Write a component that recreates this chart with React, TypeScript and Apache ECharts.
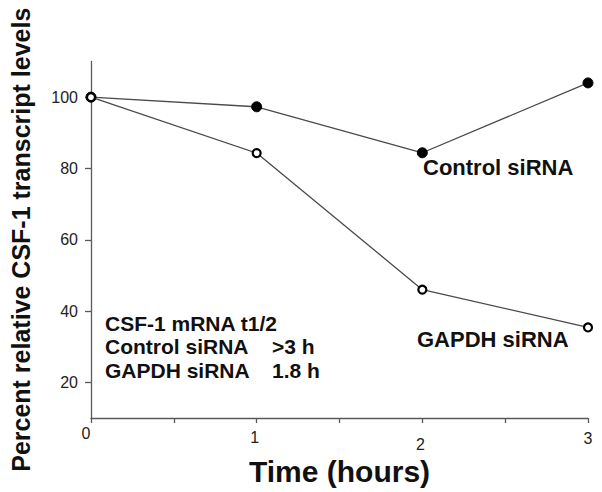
import React, { useEffect, useRef } from "react";
import * as echarts from "echarts";

const hours = [0, 1, 2, 3];
const controlValues = [100, 97.3, 84.4, 104];
const gapdhValues = [100, 84.3, 46, 35.4];
const yTicks = [20, 40, 60, 80, 100];
const xLabelStyleKeys = ["a", "b", "c", "d"];
const annotationLines = [
  ["CSF-1 mRNA t1/2", ""],
  ["Control siRNA", ">3 h"],
  ["GAPDH siRNA", "1.8 h"],
];

const FONT = "'Liberation Sans', Arial, Helvetica, sans-serif";

export default function App() {
  const ref = useRef<HTMLDivElement>(null);
  useEffect(() => {
    if (!ref.current) return;
    const chart = echarts.init(ref.current, undefined, { renderer: "svg" });
    const axisColor = "#5a5a5a";
    const lineColor = "#4a4a4a";
    const annGraphics: any[] = [];
    annotationLines.forEach((ln, i) => {
      const y = 323 + i * 23.5;
      annGraphics.push({
        type: "text",
        x: 105,
        y,
        style: {
          text: ln[0],
          font: `bold 21px ${FONT}`,
          fill: "#111",
          textAlign: "left",
          textVerticalAlign: "middle",
          align: "left",
          verticalAlign: "middle",
        },
      });
      if (ln[1]) {
        annGraphics.push({
          type: "text",
          x: 272,
          y,
          style: {
            text: ln[1],
            font: `bold 21px ${FONT}`,
            fill: "#111",
            textAlign: "left",
            textVerticalAlign: "middle",
            align: "left",
            verticalAlign: "middle",
          },
        });
      }
    });
    chart.setOption({
      animation: false,
      backgroundColor: "#ffffff",
      textStyle: { fontFamily: FONT },
      grid: { left: 86, right: 14, top: 61.5, bottom: 74 },
      xAxis: {
        type: "value",
        min: 0,
        max: 3,
        interval: 1,
        name: "Time (hours)",
        nameLocation: "middle",
        nameGap: 37,
        nameTextStyle: { fontSize: 30, fontWeight: "bold", color: "#111", fontFamily: FONT },
        axisLine: { show: true, lineStyle: { color: axisColor, width: 1.3 } },
        axisTick: { show: true, inside: false, length: 5, lineStyle: { color: axisColor, width: 1.3 } },
        minorTick: { show: true, splitNumber: 2, length: 5, lineStyle: { color: axisColor, width: 1.3 } },
        splitLine: { show: false },
        axisLabel: {
          margin: 3,
          color: "#222",
          fontSize: 16,
          fontFamily: FONT,
          formatter: (v: number) => {
            const idx = hours.indexOf(v);
            const key = xLabelStyleKeys[idx] || "a";
            return `{${key}|${v}}`;
          },
          rich: {
            a: { lineHeight: 24, fontSize: 16, color: "#222", padding: [0, 10, 0, 0] },
            b: { lineHeight: 32, fontSize: 16, color: "#222", padding: [0, 4, 0, 0] },
            c: { lineHeight: 46, fontSize: 16, color: "#222", padding: [0, 4, 0, 0] },
            d: { lineHeight: 34, fontSize: 16, color: "#222" },
          },
        },
      },
      yAxis: {
        type: "value",
        min: 10,
        max: 110,
        interval: 10,
        name: "Percent relative CSF-1 transcript levels",
        nameLocation: "middle",
        nameGap: 58,
        nameRotate: 90,
        nameTextStyle: { fontSize: 25, fontWeight: "bold", color: "#111", fontFamily: FONT },
        axisLine: { show: true, lineStyle: { color: axisColor, width: 1.3 } },
        axisTick: {
          show: true,
          length: 6,
          lineStyle: { color: axisColor, width: 1.3 },
          customValues: yTicks,
        },
        splitLine: { show: false },
        axisLabel: {
          margin: 13,
          color: "#222",
          fontSize: 16,
          fontFamily: FONT,
          customValues: yTicks,
        },
      },
      series: [
        {
          name: "Control siRNA",
          type: "line",
          data: hours.map((h, i) => [h, controlValues[i]]),
          symbol: "circle",
          symbolSize: 10,
          itemStyle: { color: "#000", borderColor: "#000", borderWidth: 1 },
          lineStyle: { color: lineColor, width: 1.3 },
          z: 2,
        },
        {
          name: "GAPDH siRNA",
          type: "line",
          data: hours.map((h, i) => [h, gapdhValues[i]]),
          symbol: "circle",
          symbolSize: 8,
          showAllSymbol: true,
          itemStyle: { color: "#fff", borderColor: "#000", borderWidth: 2.2 },
          lineStyle: { color: lineColor, width: 1.3 },
          z: 3,
        },
      ],
      graphic: [
        {
          type: "text",
          x: 423,
          y: 167,
          style: {
            text: "Control siRNA",
            font: `bold 22px ${FONT}`,
            fill: "#111",
            textAlign: "left",
            textVerticalAlign: "middle",
            align: "left",
            verticalAlign: "middle",
          },
        },
        {
          type: "text",
          x: 417,
          y: 339,
          style: {
            text: "GAPDH siRNA",
            font: `bold 22px ${FONT}`,
            fill: "#111",
            textAlign: "left",
            textVerticalAlign: "middle",
            align: "left",
            verticalAlign: "middle",
          },
        },
        ...annGraphics,
      ],
    });
    return () => chart.dispose();
  }, []);
  return <div ref={ref} style={{ width: 602, height: 492, position: "absolute", left: 0, top: 0 }} />;
}
